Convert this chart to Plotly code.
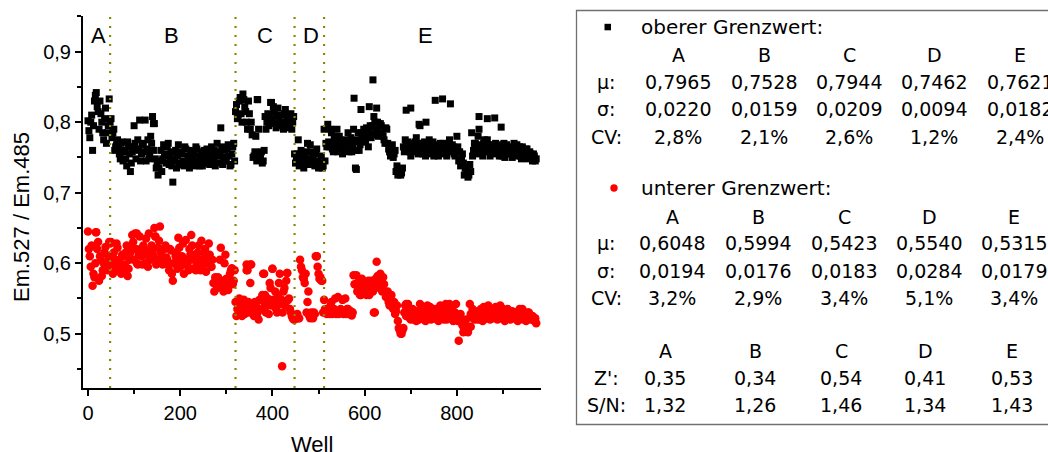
import plotly.graph_objects as go

# ---------------- data ----------------
wells_a = list(range(0, 973, 4))
wells_b = list(range(2, 971, 4))

upper_a = [
    0.802, 0.778, 0.810, 0.795, 0.838, 0.822, 0.790, 0.812, 0.785, 0.805,
    0.770, 0.795, 0.800, 0.778, 0.790, 0.765, 0.775, 0.755, 0.770, 0.745,
    0.760, 0.738, 0.765, 0.730, 0.758, 0.795, 0.748, 0.775, 0.803, 0.755,
    0.770, 0.803, 0.762, 0.748, 0.780, 0.808, 0.798, 0.735, 0.725, 0.745,
    0.730, 0.768, 0.752, 0.765, 0.740, 0.758, 0.715, 0.748, 0.735, 0.768,
    0.742, 0.755, 0.738, 0.762, 0.745, 0.735, 0.758, 0.748, 0.738, 0.762,
    0.745, 0.752, 0.738, 0.760, 0.742, 0.755, 0.740, 0.765, 0.748, 0.738,
    0.770, 0.752, 0.792, 0.740, 0.760, 0.745, 0.768, 0.738, 0.755, 0.770,
    0.815, 0.805, 0.830, 0.812, 0.840, 0.822, 0.800, 0.830, 0.790, 0.782,
    0.752, 0.780, 0.832, 0.748, 0.758, 0.745, 0.808, 0.800, 0.795, 0.828,
    0.805, 0.815, 0.792, 0.820, 0.800, 0.810, 0.790, 0.818, 0.802, 0.795,
    0.812, 0.800, 0.755, 0.748, 0.775, 0.752, 0.740, 0.735, 0.748, 0.770,
    0.745, 0.758, 0.752, 0.738, 0.762, 0.735, 0.742, 0.735, 0.790, 0.770,
    0.797, 0.765, 0.785, 0.758, 0.772, 0.790, 0.760, 0.768, 0.755, 0.775,
    0.762, 0.785, 0.770, 0.758, 0.790, 0.735, 0.775, 0.760, 0.785, 0.772,
    0.778, 0.792, 0.765, 0.795, 0.782, 0.808, 0.790, 0.800, 0.785, 0.795,
    0.780, 0.770, 0.790, 0.762, 0.752, 0.768, 0.755, 0.730, 0.725, 0.732,
    0.728, 0.765, 0.775, 0.760, 0.770, 0.752, 0.768, 0.758, 0.778, 0.755,
    0.795, 0.762, 0.770, 0.752, 0.768, 0.760, 0.755, 0.772, 0.758, 0.765,
    0.752, 0.770, 0.760, 0.755, 0.768, 0.762, 0.775, 0.758, 0.765, 0.752,
    0.780, 0.745, 0.738, 0.755, 0.725, 0.732, 0.722, 0.740, 0.785, 0.760,
    0.770, 0.755, 0.790, 0.762, 0.752, 0.775, 0.758, 0.768, 0.752, 0.765,
    0.755, 0.770, 0.760, 0.752, 0.765, 0.758, 0.750, 0.768, 0.755, 0.762,
    0.750, 0.770, 0.758, 0.752, 0.765, 0.748, 0.760, 0.752, 0.762, 0.750,
    0.755, 0.745, 0.752, 0.748,
]

upper_b = [
    0.788, 0.800, 0.760, 0.830, 0.842, 0.815, 0.830, 0.800, 0.775, 0.820,
    0.785, 0.833, 0.805, 0.785, 0.760, 0.768, 0.762, 0.748, 0.772, 0.758,
    0.748, 0.772, 0.755, 0.742, 0.765, 0.770, 0.762, 0.760, 0.745, 0.768,
    0.758, 0.745, 0.775, 0.755, 0.770, 0.760, 0.748, 0.742, 0.735, 0.760,
    0.748, 0.755, 0.742, 0.770, 0.750, 0.738, 0.745, 0.760, 0.752, 0.740,
    0.758, 0.745, 0.765, 0.740, 0.752, 0.760, 0.742, 0.755, 0.765, 0.745,
    0.738, 0.758, 0.750, 0.742, 0.762, 0.748, 0.755, 0.740, 0.760, 0.752,
    0.742, 0.758, 0.765, 0.750, 0.745, 0.762, 0.752, 0.740, 0.765, 0.745,
    0.825, 0.810, 0.835, 0.800, 0.832, 0.815, 0.790, 0.812, 0.800, 0.750,
    0.758, 0.745, 0.790, 0.752, 0.742, 0.760, 0.790, 0.812, 0.805, 0.800,
    0.822, 0.798, 0.810, 0.808, 0.795, 0.800, 0.812, 0.792, 0.808, 0.800,
    0.790, 0.808, 0.742, 0.755, 0.738, 0.760, 0.745, 0.752, 0.758, 0.740,
    0.768, 0.748, 0.742, 0.755, 0.745, 0.740, 0.752, 0.738, 0.745, 0.765,
    0.772, 0.790, 0.762, 0.780, 0.765, 0.758, 0.775, 0.762, 0.770, 0.760,
    0.770, 0.758, 0.778, 0.765, 0.772, 0.760, 0.785, 0.768, 0.778, 0.790,
    0.772, 0.785, 0.790, 0.778, 0.795, 0.800, 0.788, 0.780, 0.798, 0.785,
    0.775, 0.792, 0.770, 0.758, 0.765, 0.750, 0.760, 0.738, 0.728, 0.725,
    0.735, 0.758, 0.768, 0.772, 0.758, 0.765, 0.760, 0.772, 0.762, 0.770,
    0.765, 0.755, 0.772, 0.762, 0.758, 0.770, 0.762, 0.752, 0.768, 0.758,
    0.765, 0.758, 0.770, 0.762, 0.752, 0.770, 0.760, 0.768, 0.755, 0.762,
    0.765, 0.758, 0.748, 0.742, 0.735, 0.728, 0.725, 0.730, 0.752, 0.770,
    0.762, 0.780, 0.768, 0.758, 0.770, 0.762, 0.775, 0.760, 0.768, 0.758,
    0.765, 0.758, 0.768, 0.760, 0.752, 0.770, 0.762, 0.755, 0.765, 0.758,
    0.762, 0.755, 0.768, 0.758, 0.752, 0.765, 0.755, 0.762, 0.748, 0.758,
    0.750, 0.755, 0.745,
]

upper_out_wells = [618, 577, 592, 610, 626, 690, 700, 718, 733, 753, 769, 786,
                   848, 866, 882, 896, 545, 582, 740, 367, 398, 142]
upper_out = [0.860, 0.834, 0.818, 0.822, 0.820, 0.817, 0.820, 0.797, 0.800, 0.831, 0.833, 0.826,
             0.808, 0.805, 0.806, 0.793, 0.780, 0.733, 0.775, 0.832, 0.828, 0.798]

lower_a = [
    0.645, 0.610, 0.625, 0.585, 0.600, 0.620, 0.575, 0.605, 0.590, 0.615,
    0.600, 0.610, 0.628, 0.598, 0.615, 0.590, 0.622, 0.605, 0.585, 0.610,
    0.598, 0.625, 0.592, 0.615, 0.640, 0.605, 0.620, 0.598, 0.638, 0.610,
    0.625, 0.600, 0.618, 0.642, 0.605, 0.615, 0.650, 0.598, 0.622, 0.652,
    0.610, 0.600, 0.625, 0.605, 0.590, 0.618, 0.575, 0.600, 0.615, 0.636,
    0.595, 0.610, 0.585, 0.633, 0.600, 0.620, 0.640, 0.592, 0.612, 0.598,
    0.625, 0.590, 0.605, 0.615, 0.588, 0.600, 0.612, 0.595, 0.572, 0.580,
    0.565, 0.575, 0.622, 0.568, 0.600, 0.578, 0.562, 0.585, 0.593, 0.575,
    0.545, 0.535, 0.550, 0.530, 0.540, 0.528, 0.598, 0.545, 0.572, 0.535,
    0.525, 0.540, 0.530, 0.548, 0.535, 0.585, 0.555, 0.540, 0.528, 0.565,
    0.592, 0.545, 0.535, 0.555, 0.585, 0.548, 0.560, 0.540, 0.586, 0.550,
    0.530, 0.522, 0.520, 0.523, 0.522, 0.605, 0.590, 0.578, 0.585, 0.545,
    0.525, 0.530, 0.522, 0.528, 0.610, 0.585, 0.580, 0.575, 0.548, 0.530,
    0.535, 0.528, 0.545, 0.530, 0.550, 0.532, 0.528, 0.535, 0.548, 0.530,
    0.528, 0.535, 0.530, 0.526, 0.583, 0.570, 0.560, 0.575, 0.555, 0.565,
    0.570, 0.555, 0.575, 0.562, 0.568, 0.530, 0.578, 0.582, 0.565, 0.575,
    0.580, 0.560, 0.555, 0.545, 0.550, 0.538, 0.545, 0.532, 0.518, 0.505,
    0.500, 0.508, 0.540, 0.525, 0.530, 0.520, 0.535, 0.525, 0.518, 0.528,
    0.542, 0.522, 0.530, 0.518, 0.540, 0.525, 0.520, 0.535, 0.522, 0.528,
    0.518, 0.540, 0.525, 0.520, 0.532, 0.522, 0.542, 0.525, 0.518, 0.530,
    0.525, 0.490, 0.528, 0.512, 0.508, 0.520, 0.502, 0.542, 0.528, 0.522,
    0.530, 0.520, 0.525, 0.535, 0.518, 0.528, 0.522, 0.540, 0.520, 0.530,
    0.525, 0.538, 0.520, 0.528, 0.522, 0.535, 0.518, 0.530, 0.525, 0.520,
    0.532, 0.522, 0.528, 0.518, 0.535, 0.525, 0.520, 0.528, 0.522, 0.530,
    0.520, 0.525, 0.518, 0.515,
]

lower_b = [
    0.620, 0.595, 0.568, 0.580, 0.644, 0.630, 0.610, 0.582, 0.600, 0.623,
    0.590, 0.630, 0.630, 0.585, 0.605, 0.628, 0.600, 0.595, 0.612, 0.590,
    0.615, 0.582, 0.605, 0.620, 0.630, 0.642, 0.600, 0.612, 0.620, 0.598,
    0.612, 0.635, 0.595, 0.608, 0.625, 0.610, 0.638, 0.605, 0.632, 0.615,
    0.598, 0.620, 0.608, 0.598, 0.620, 0.585, 0.600, 0.610, 0.592, 0.622,
    0.605, 0.628, 0.598, 0.605, 0.590, 0.612, 0.625, 0.605, 0.590, 0.615,
    0.605, 0.632, 0.598, 0.620, 0.608, 0.628, 0.595, 0.605, 0.560, 0.575,
    0.580, 0.605, 0.575, 0.560, 0.612, 0.570, 0.575, 0.590, 0.570, 0.590,
    0.525, 0.545, 0.538, 0.525, 0.548, 0.535, 0.590, 0.530, 0.598, 0.540,
    0.545, 0.528, 0.520, 0.535, 0.555, 0.545, 0.530, 0.550, 0.572, 0.540,
    0.548, 0.560, 0.530, 0.572, 0.542, 0.530, 0.565, 0.575, 0.548, 0.535,
    0.525, 0.520, 0.522, 0.528, 0.522, 0.595, 0.580, 0.572, 0.530, 0.560,
    0.522, 0.525, 0.530, 0.610, 0.595, 0.578, 0.575, 0.530, 0.535, 0.528,
    0.530, 0.540, 0.528, 0.535, 0.528, 0.552, 0.530, 0.532, 0.528, 0.550,
    0.535, 0.528, 0.532, 0.530, 0.570, 0.583, 0.565, 0.555, 0.578, 0.560,
    0.560, 0.572, 0.555, 0.575, 0.560, 0.575, 0.602, 0.570, 0.585, 0.560,
    0.570, 0.552, 0.560, 0.540, 0.555, 0.535, 0.528, 0.540, 0.508, 0.500,
    0.505, 0.530, 0.525, 0.542, 0.522, 0.530, 0.520, 0.528, 0.532, 0.520,
    0.528, 0.535, 0.520, 0.530, 0.525, 0.538, 0.522, 0.525, 0.535, 0.520,
    0.530, 0.522, 0.535, 0.525, 0.520, 0.530, 0.525, 0.535, 0.522, 0.542,
    0.518, 0.525, 0.520, 0.502, 0.512, 0.505, 0.510, 0.528, 0.535, 0.520,
    0.525, 0.532, 0.520, 0.528, 0.538, 0.522, 0.530, 0.525, 0.535, 0.522,
    0.528, 0.522, 0.532, 0.540, 0.525, 0.520, 0.528, 0.535, 0.522, 0.530,
    0.525, 0.530, 0.520, 0.528, 0.522, 0.535, 0.525, 0.518, 0.530, 0.522,
    0.525, 0.520, 0.522,
]

lower_out_wells = [421, 352, 344, 496, 382, 400, 432, 17, 146, 106, 622, 690, 776, 830]
lower_out = [0.454, 0.598, 0.590, 0.610, 0.585, 0.592, 0.586, 0.644, 0.638, 0.642, 0.530, 0.542, 0.542, 0.510]

plate_bounds = [48, 320, 448, 512]
plate_names = ["A", "B", "C", "D", "E"]
plate_label_wells = [23, 181, 383, 483, 732]

upper_mu = ["0,7965", "0,7528", "0,7944", "0,7462", "0,7621"]
upper_sigma = ["0,0220", "0,0159", "0,0209", "0,0094", "0,0182"]
upper_cv = ["2,8%", "2,1%", "2,6%", "1,2%", "2,4%"]
lower_mu = ["0,6048", "0,5994", "0,5423", "0,5540", "0,5315"]
lower_sigma = ["0,0194", "0,0176", "0,0183", "0,0284", "0,0179"]
lower_cv = ["3,2%", "2,9%", "3,4%", "5,1%", "3,4%"]
z_prime = ["0,35", "0,34", "0,54", "0,41", "0,53"]
s_n = ["1,32", "1,26", "1,46", "1,34", "1,43"]

# ---------------- layout helpers ----------------
W, H = 1048, 452
ML, MR, MT, MB = 83, 507, 16, 64
PW, PH = W - ML - MR, H - MT - MB


def xp(px):
    return (px - ML) / PW


def yp(py):
    return (H - MB - py) / PH


FONT_AX = "Liberation Sans, Arial, sans-serif"
FONT_TB = "DejaVu Sans, sans-serif"

fig = go.Figure()
fig.add_trace(go.Scatter(
    x=wells_a + wells_b + upper_out_wells, y=upper_a + upper_b + upper_out, mode="markers",
    marker=dict(symbol="square", size=7, color="black"), showlegend=False,
    hoverinfo="x+y"))
fig.add_trace(go.Scatter(
    x=wells_a + wells_b + lower_out_wells, y=lower_a + lower_b + lower_out, mode="markers",
    marker=dict(symbol="circle", size=8.5, color="#ff0000"), showlegend=False,
    hoverinfo="x+y"))

shapes = []
for b in plate_bounds:
    shapes.append(dict(type="line", xref="x", yref="paper", x0=b, x1=b, y0=0, y1=1,
                       line=dict(color="#8a8a00", width=2.2, dash="2px,7px")))
# legend / statistics box
shapes.append(dict(type="rect", xref="paper", yref="paper",
                   x0=xp(576.5), x1=xp(1100), y0=yp(10.5), y1=yp(424.5),
                   line=dict(color="#707070", width=1.3), fillcolor="white", layer="below"))
shapes.append(dict(type="rect", xref="paper", yref="paper",
                   x0=xp(604.5), x1=xp(611), y0=yp(23.8), y1=yp(30.3),
                   line=dict(width=0), fillcolor="black"))
shapes.append(dict(type="circle", xref="paper", yref="paper",
                   x0=xp(610.3), x1=xp(617.7), y0=yp(184.3), y1=yp(191.7),
                   line=dict(width=0), fillcolor="#ff0000"))

ann = []
for name, xw in zip(plate_names, plate_label_wells):
    ann.append(dict(x=xw, y=yp(36), xref="x", yref="paper", text=name, showarrow=False,
                    font=dict(family=FONT_AX, size=22, color="black"),
                    xanchor="center", yanchor="middle"))

ann.append(dict(x=xp(21), y=yp(217), xref="paper", yref="paper", text="Em.527 / Em.485",
                textangle=-90, showarrow=False, xanchor="center", yanchor="middle",
                font=dict(family=FONT_AX, size=22, color="black")))
ann.append(dict(x=xp(312), y=yp(444.5), xref="paper", yref="paper", text="Well",
                showarrow=False, xanchor="center", yanchor="middle",
                font=dict(family=FONT_AX, size=22, color="black")))


def txt(px, py, s, anchor="center", size=19):
    ann.append(dict(x=xp(px), y=yp(py), xref="paper", yref="paper", text=s,
                    showarrow=False, xanchor=anchor, yanchor="middle",
                    font=dict(family=FONT_TB, size=size, color="black")))


LABEL_X = 606
# upper section
txt(639, 27, "oberer Grenzwert:", "left", 20)
cols1 = [678, 764, 849, 934, 1020]
for cx, n, m, s, c in zip(cols1, plate_names, upper_mu, upper_sigma, upper_cv):
    txt(cx, 55, n)
    txt(cx, 82, m)
    txt(cx, 109, s)
    txt(cx, 137, c)
txt(LABEL_X, 82, "μ:")
txt(LABEL_X, 109, "σ:")
txt(LABEL_X, 137, "CV:")
# lower section
txt(639, 188, "unterer Grenzwert:", "left", 20)
cols2 = [672, 758, 844, 929, 1014]
for cx, n, m, s, c in zip(cols2, plate_names, lower_mu, lower_sigma, lower_cv):
    txt(cx, 217, n)
    txt(cx, 243, m)
    txt(cx, 271, s)
    txt(cx, 298, c)
txt(LABEL_X, 243, "μ:")
txt(LABEL_X, 271, "σ:")
txt(LABEL_X, 298, "CV:")
# Z' and S/N
cols3 = [665, 755, 841, 925, 1012]
for cx, n, z, sn in zip(cols3, plate_names, z_prime, s_n):
    txt(cx, 351, n)
    txt(cx, 378, z)
    txt(cx, 405, sn)
txt(LABEL_X, 378, "Z':")
txt(LABEL_X, 405, "S/N:")

fig.update_layout(
    width=W, height=H,
    margin=dict(l=ML, r=MR, t=MT, b=MB, pad=0),
    paper_bgcolor="white", plot_bgcolor="white",
    separators=", ",
    shapes=shapes, annotations=ann,
    xaxis=dict(range=[-10.8, 982.4], showgrid=False, zeroline=False,
               showline=True, linecolor="black", linewidth=2,
               ticks="outside", ticklen=6, tickwidth=2, tickcolor="black",
               tick0=0, dtick=200,
               minor=dict(ticks="outside", ticklen=4, tickwidth=1.5, tickcolor="black", dtick=100, tick0=0),
               tickfont=dict(family=FONT_AX, size=20, color="black")),
    yaxis=dict(range=[0.423, 0.9506], showgrid=False, zeroline=False,
               showline=True, linecolor="black", linewidth=2,
               ticks="outside", ticklen=6, tickwidth=2, tickcolor="black",
               tick0=0.5, dtick=0.1,
               minor=dict(ticks="outside", ticklen=4, tickwidth=1.5, tickcolor="black", dtick=0.1, tick0=0.45),
               tickfont=dict(family=FONT_AX, size=20, color="black")),
)

fig.write_html("out.html")
